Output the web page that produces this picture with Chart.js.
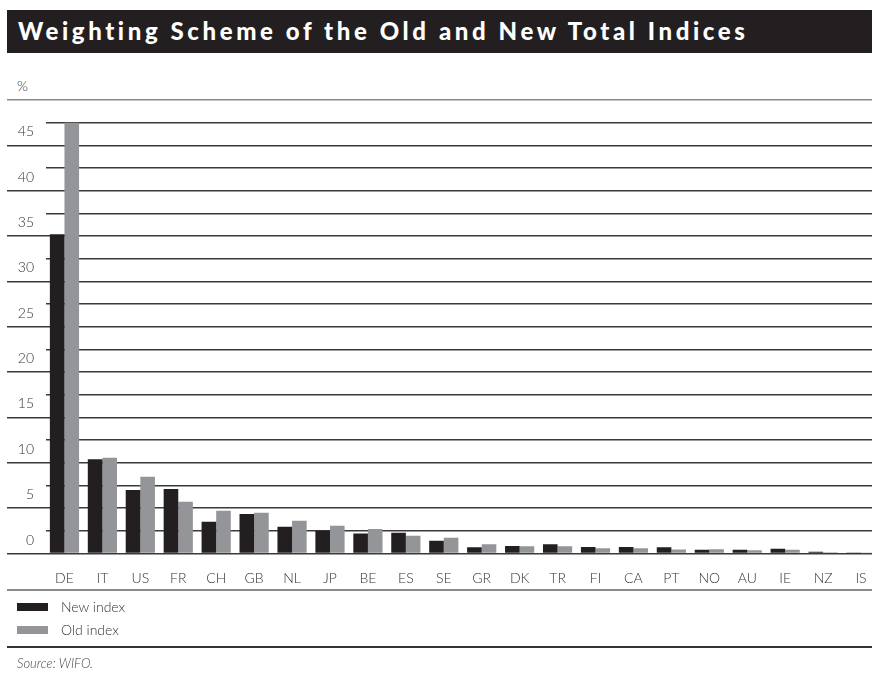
<!DOCTYPE html>
<html>
<head>
<meta charset="utf-8">
<script src="https://cdn.jsdelivr.net/npm/chart.js@4.4.0/dist/chart.umd.min.js"></script>
<style>
  html, body { margin: 0; padding: 0; background: #fff; overflow: hidden; }
  body { width: 872px; height: 675px; position: relative; font-family: Lato, "Open Sans", sans-serif; color: #333; }
  #titlebar { position: absolute; left: 7px; top: 10px; width: 865px; height: 43px; background: #231f20; }
  #titlebar span { position: absolute; left: 11px; top: 6px; color: #fff; font: 900 24px Lato, sans-serif; letter-spacing: 3.6px; white-space: nowrap; }
  #unit { position: absolute; left: 17px; top: 77px; font: 300 14px Lato, sans-serif; }
  #wrap { position: absolute; left: 0; top: 0; width: 880px; height: 600px; }
  .rule { position: absolute; left: 7px; width: 865px; }
  #rule1 { top: 589px; height: 2px; background: #8a8a8a; }
  #rule2 { top: 646px; height: 1.5px; background: #333; }
  #legend { position: absolute; left: 17px; top: 597px; font: 300 14px Lato, sans-serif; }
  #legend div { height: 23px; line-height: 19px; }
  #legend i { display: inline-block; width: 31px; height: 8px; margin-right: 13px; vertical-align: 1px; }
  #source { position: absolute; left: 17px; top: 655px; font: italic 300 13px Lato, sans-serif; color: #444; }
</style>
</head>
<body>
<div id="titlebar"><span>Weighting Scheme of the Old and New Total Indices</span></div>
<div id="unit">%</div>
<div id="wrap"><canvas id="chart" width="880" height="600"></canvas></div>
<div class="rule" id="rule1"></div>
<div id="legend"></div>
<div class="rule" id="rule2"></div>
<div id="source">Source: WIFO.</div>

<script>
// country weights in percent
var countries = ['DE','IT','US','FR','CH','GB','NL','JP','BE','ES','SE','GR','DK','TR','FI','CA','PT','NO','AU','IE','NZ','IS'];
var newIndex = [35.2, 10.4, 7.0, 7.1, 3.5, 4.35, 2.95, 2.5, 2.2, 2.3, 1.4, 0.7, 0.84, 1.03, 0.73, 0.73, 0.7, 0.4, 0.4, 0.51, 0.18, 0.03];
var oldIndex = [47.5, 10.55, 8.45, 5.7, 4.7, 4.5, 3.6, 3.05, 2.7, 1.95, 1.75, 1.03, 0.8, 0.8, 0.58, 0.58, 0.44, 0.47, 0.36, 0.4, 0.14, 0.03];
var yTicks = [0, 5, 10, 15, 20, 25, 30, 35, 40, 45];

var dark = '#231f20';
var grey = '#939598';

var ctx = document.getElementById('chart').getContext('2d');
var myChart = new Chart(ctx, {
    type: 'bar',
    data: {
        labels: countries,
        datasets: [{
            label: 'New index',
            data: newIndex,
            backgroundColor: dark,
            borderWidth: 0
        }, {
            label: 'Old index',
            data: oldIndex,
            backgroundColor: grey,
            borderWidth: 0
        }]
    },
    options: {
        responsive: false,
        animation: false,
        layout: { padding: { top: 100, bottom: 10, left: 0, right: 0 } },
        plugins: {
            legend: { display: false },
            tooltip: { enabled: false }
        },
        datasets: {
            bar: { categoryPercentage: 0.77, barPercentage: 1.0 }
        },
        scales: {
            x: {
                grid: { display: false },
                border: { display: false },
                ticks: {
                    color: '#333',
                    padding: 9,
                    maxRotation: 0,
                    autoSkip: false,
                    font: { family: 'Lato', size: 14, weight: 300 }
                },
                afterFit: function(scale) { scale.height = 36.5; }
            },
            y: {
                min: 0,
                max: 50,
                border: { display: false },
                grid: {
                    // full rules at every 5 reach out to the labels, half steps stop at the plot
                    color: function(c) { return c.tick.value === 50 ? '#8a8a8a' : '#3a3a3a'; },
                    lineWidth: 1.5,
                    tickLength: 38.5,
                    tickWidth: 1.5,
                    tickColor: function(c) {
                        if (c.tick.value % 5 !== 0) return 'rgba(0,0,0,0)';
                        return c.tick.value === 50 ? '#8a8a8a' : '#3a3a3a';
                    }
                },
                ticks: {
                    stepSize: 2.5,
                    padding: -27,
                    labelOffset: -13.5,
                    color: '#333',
                    font: { family: 'Lato', size: 14, weight: 300 },
                    callback: function(v) { return yTicks.indexOf(v) >= 0 ? String(v) : ''; }
                },
                afterFit: function(scale) { scale.width = 45.5; }
            }
        }
    }
});

// legend list under the axis
var legendHtml = '';
myChart.data.datasets.forEach(function(ds) {
    legendHtml += '<div><i style="background:' + ds.backgroundColor + '"></i>' + ds.label + '</div>';
});
document.getElementById('legend').innerHTML = legendHtml;
</script>
</body>
</html>
